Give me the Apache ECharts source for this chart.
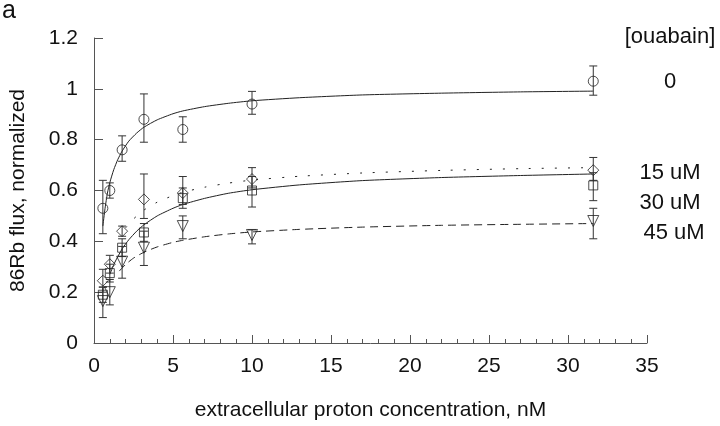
<!DOCTYPE html>
<html>
<head>
<meta charset="utf-8">
<script src="https://cdn.jsdelivr.net/npm/echarts@6/dist/echarts.min.js"></script>
<style>
html,body{margin:0;padding:0;background:#fff;}
#chart{width:720px;height:426px;}
</style>
</head>
<body>
<div id="chart"></div>
<script>
// ---- data ----
var xs = [0.56, 1.0, 1.78, 3.16, 5.62, 10.0, 31.6];

var ouab0    = [0.53, 0.60, 0.76, 0.88, 0.84, 0.94, 1.03];
var ouab0Lo  = [0.43, 0.57, 0.715, 0.79, 0.79, 0.90, 0.975];
var ouab0Hi  = [0.64, 0.63, 0.815, 0.98, 0.89, 0.99, 1.09];

var ouab15   = [0.245, 0.31, 0.44, 0.565, 0.59, 0.645, 0.68];
var ouab15Lo = [0.20, 0.275, 0.42, 0.49, 0.545, 0.61, 0.64];
var ouab15Hi = [0.29, 0.345, 0.46, 0.665, 0.655, 0.69, 0.73];

var ouab30   = [0.19, 0.275, 0.375, 0.435, 0.57, 0.60, 0.62];
var ouab30Lo = [0.16, 0.24, 0.34, 0.40, 0.53, 0.535, 0.56];
var ouab30Hi = [0.22, 0.31, 0.41, 0.47, 0.61, 0.655, 0.67];

var ouab45   = [0.165, 0.20, 0.32, 0.375, 0.46, 0.425, 0.48];
var ouab45Lo = [0.10, 0.15, 0.255, 0.305, 0.41, 0.39, 0.41];
var ouab45Hi = [0.22, 0.25, 0.38, 0.44, 0.50, 0.445, 0.53];

// fitted curves
var fit0X  = [0.56, 0.7, 0.85, 1.0, 1.25, 1.5, 1.78, 2.2, 2.7, 3.16, 4, 5, 5.62, 7, 8.5, 10, 13, 17, 22, 27, 31.6];
var fit0Y  = [0.46, 0.53, 0.59, 0.631, 0.682, 0.721, 0.755, 0.794, 0.826, 0.849, 0.878, 0.902, 0.913, 0.930, 0.943, 0.953, 0.965, 0.976, 0.983, 0.988, 0.991];
var fit15X = [2.0, 2.5, 3.16, 4, 5, 5.62, 7, 8.5, 10, 13, 17, 22, 27, 31.6];
var fit15Y = [0.453, 0.488, 0.523, 0.554, 0.580, 0.593, 0.613, 0.629, 0.641, 0.656, 0.669, 0.679, 0.686, 0.690];
var fit30X = [1.0, 1.3, 1.78, 2.2, 2.7, 3.16, 4, 5, 5.62, 7, 8.5, 10, 13, 17, 22, 27, 31.6];
var fit30Y = [0.270, 0.315, 0.370, 0.406, 0.440, 0.465, 0.500, 0.530, 0.545, 0.569, 0.589, 0.603, 0.622, 0.639, 0.651, 0.659, 0.665];
var fit45X = [1.6, 2.0, 2.5, 3.16, 4, 5, 5.62, 7, 8.5, 10, 13, 17, 22, 27, 31.6];
var fit45Y = [0.283, 0.309, 0.334, 0.357, 0.378, 0.396, 0.404, 0.418, 0.429, 0.437, 0.447, 0.456, 0.463, 0.467, 0.470];

var xTicks = [0, 5, 10, 15, 20, 25, 30, 35];
var yTicks = [0, 0.2, 0.4, 0.6, 0.8, 1.0, 1.2];
var legendTitle = '[ouabain]';
var legendLabels = ['0', '15 uM', '30 uM', '45 uM'];

// ---- build ----
function zip(a, b) { return a.map(function (v, i) { return [v, b[i]]; }); }
function zip3(a, b, c) { return a.map(function (v, i) { return [v, b[i], c[i]]; }); }

var FONT = '"Liberation Sans", Arial, sans-serif';
var INK = '#111';

function errSeries(lo, hi) {
  return {
    type: 'custom',
    data: zip3(xs, lo, hi),
    silent: true,
    z: 3,
    renderItem: function (params, api) {
      var x = api.value(0);
      var p1 = api.coord([x, api.value(1)]);
      var p2 = api.coord([x, api.value(2)]);
      var w = 4;
      var st = { stroke: '#333', lineWidth: 1 };
      return {
        type: 'group',
        children: [
          { type: 'line', shape: { x1: p1[0], y1: p1[1], x2: p2[0], y2: p2[1] }, style: st },
          { type: 'line', shape: { x1: p1[0] - w, y1: p1[1], x2: p1[0] + w, y2: p1[1] }, style: st },
          { type: 'line', shape: { x1: p2[0] - w, y1: p2[1], x2: p2[0] + w, y2: p2[1] }, style: st }
        ]
      };
    }
  };
}

function pts(vals, symbol, size, rot) {
  return {
    type: 'scatter',
    data: zip(xs, vals),
    symbol: symbol,
    symbolSize: size,
    symbolRotate: rot || 0,
    z: 4,
    itemStyle: { color: 'rgba(255,255,255,0)', borderColor: '#222', borderWidth: 1 }
  };
}

function fit(x, y, dash) {
  return {
    type: 'line',
    data: zip(x, y),
    smooth: 0.2,
    showSymbol: false,
    symbol: 'none',
    z: 2,
    lineStyle: { color: '#222', width: 1, type: dash || 'solid' }
  };
}

var chart = echarts.init(document.getElementById('chart'), null, { renderer: 'canvas' });

var legendX = 670;
var LF = '22px ' + FONT;
var graphics = [
  { type: 'text', left: 2, top: -1, style: { text: 'a', font: '25px ' + FONT, fill: INK } },
  { type: 'text', x: legendX, y: 37, style: { text: legendTitle, font: LF, fill: INK, textAlign: 'center', textVerticalAlign: 'middle' } },
  { type: 'text', x: legendX, y: 82, style: { text: legendLabels[0], font: LF, fill: INK, textAlign: 'center', textVerticalAlign: 'middle' } },
  { type: 'text', x: legendX, y: 173, style: { text: legendLabels[1], font: LF, fill: INK, textAlign: 'center', textVerticalAlign: 'middle' } },
  { type: 'text', x: legendX, y: 203, style: { text: legendLabels[2], font: LF, fill: INK, textAlign: 'center', textVerticalAlign: 'middle' } },
  { type: 'text', x: legendX + 4, y: 233, style: { text: legendLabels[3], font: LF, fill: INK, textAlign: 'center', textVerticalAlign: 'middle' } }
];

chart.setOption({
  animation: false,
  backgroundColor: '#fff',
  grid: { left: 89, right: 73, top: 38, bottom: 82, containLabel: false },
  xAxis: {
    type: 'value',
    min: xTicks[0], max: xTicks[xTicks.length - 1], interval: xTicks[1] - xTicks[0],
    name: 'extracellular proton concentration, nM',
    nameLocation: 'middle', nameGap: 57,
    nameTextStyle: { fontFamily: FONT, fontSize: 21, color: INK },
    axisLine: { show: true, lineStyle: { color: '#555', width: 1 } },
    axisTick: { show: true, inside: true, length: 8, lineStyle: { color: '#555' } },
    minorTick: { show: true, splitNumber: 5, length: 4, lineStyle: { color: '#555' } },
    splitLine: { show: false },
    axisLabel: { fontFamily: FONT, fontSize: 21, color: INK, margin: 13 }
  },
  yAxis: {
    type: 'value',
    min: yTicks[0], max: yTicks[yTicks.length - 1], interval: 0.2,
    name: '86Rb flux, normalized',
    nameLocation: 'middle', nameGap: 65,
    nameTextStyle: { fontFamily: FONT, fontSize: 21, color: INK },
    axisLine: { show: true, lineStyle: { color: '#555', width: 1 } },
    axisTick: { show: true, inside: true, length: 9, lineStyle: { color: '#555' } },
    splitLine: { show: false },
    axisLabel: { fontFamily: FONT, fontSize: 21, color: INK, margin: 16 }
  },
  graphic: graphics,
  series: [
    fit(fit0X, fit0Y, 'solid'),
    fit(fit15X, fit15Y, [2, 11]),
    fit(fit30X, fit30Y, 'solid'),
    fit(fit45X, fit45Y, [8, 5]),
    errSeries(ouab0Lo, ouab0Hi),
    errSeries(ouab15Lo, ouab15Hi),
    errSeries(ouab30Lo, ouab30Hi),
    errSeries(ouab45Lo, ouab45Hi),
    pts(ouab0, 'circle', 10),
    pts(ouab15, 'diamond', 11),
    pts(ouab30, 'rect', 9),
    pts(ouab45, 'triangle', 11, 180)
  ]
});
</script>
</body>
</html>
